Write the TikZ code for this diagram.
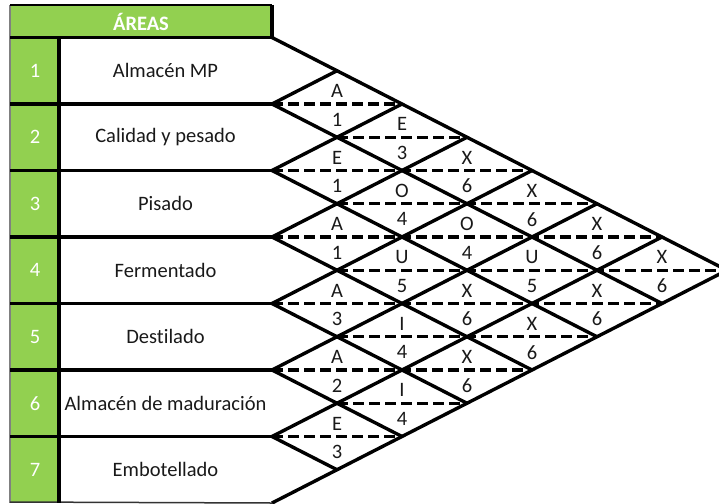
\documentclass[tikz,border=0pt]{standalone}
\usepackage{fontspec}
\setmainfont{Carlito}[Ligatures=NoCommon]
\definecolor{areagreen}{HTML}{92D050}
\begin{document}
\begin{tikzpicture}[x=1pt,y=-1pt,
  thickline/.style={line width=3.4pt, black},
  dashline/.style={line width=3.2pt, black, dash pattern=on 11pt off 5pt},
  basefont/.style={font=\fontsize{20.5}{24}\selectfont},
  lbl/.style={basefont, inner sep=0pt, text=black!90},
  rowtxt/.style={basefont, inner sep=0pt, text=black!90},
  numtxt/.style={basefont, inner sep=0pt, text=white},
  hdr/.style={font=\fontsize{20.5}{24}\selectfont\bfseries, inner sep=0pt, text=white}]
\useasboundingbox (0,0) rectangle (719,503);
\clip (0,0) rectangle (719,503);
% fills
\fill[areagreen] (10,5) rectangle (272,37.5);
\fill[areagreen] (10,37.5) rectangle (59,503);
% lattice points
\foreach \i in {0,...,7} {
  \foreach \j in {0,...,14} {
    \coordinate (p-\i-\j) at ({272+65*\i},{37.5+33.25*\j});
  }
}
% outer frame of the table
\draw[gray, line width=1.2pt] (10,5) -- (10,503);
\draw[black, line width=1.2pt] (10,5) -- (272,5);
\draw[black!80, line width=1.5pt] (10,502) -- (p-0-14);
\draw[thickline] (272,5) -- (p-0-0);
\draw[thickline] (59,37.5) -- (59,503);
\foreach \k in {0,...,6} {
  \pgfmathtruncatemacro\kk{2*\k}
  \draw[thickline] (10,{37.5+66.5*\k}) -- (p-0-\kk);
}
% dashed middles
\foreach \j in {1,...,13} {
  \pgfmathtruncatemacro\dl{mod(\j,2)}
  \pgfmathtruncatemacro\dr{\j<=7 ? \j : 14-\j}
  \ifnum\dr>\dl
    \draw[dashline] (p-\dl-\j) -- (p-\dr-\j);
  \fi
}
% diagonals
\draw[thickline] (p-0-0) -- (p-7-7) -- (p-0-14);
\foreach \k in {1,...,6} {
  \pgfmathtruncatemacro\kk{2*\k}
  \pgfmathtruncatemacro\ia{7-\k}
  \pgfmathtruncatemacro\ja{7+\k}
  \draw[thickline] (p-\k-\k) -- (p-0-\kk) -- (p-\ia-\ja);
}
% header
\node[hdr] (hdr) at (141,21.5) {ÁREAS};
% rows
\foreach \k/\areaname in {1/Almacén MP, 2/Calidad y pesado, 3/Pisado, 4/Fermentado, 5/Destilado, 6/Almacén de maduración, 7/Embotellado} {
  \node[numtxt] (num\k) at (35,{37.5+66.5*\k-33.25}) {\k};
  \node[rowtxt] (area\k) at (165.5,{37.5+66.5*\k-33.25}) {\areaname};
}
% relationship labels
\foreach \ra/\rb/\toplbl/\botlbl in {1/2/A/1, 2/3/E/1, 3/4/A/1, 4/5/A/3, 5/6/A/2, 6/7/E/3,
  1/3/E/3, 2/4/O/4, 3/5/U/5, 4/6/I/4, 5/7/I/4,
  1/4/X/6, 2/5/O/4, 3/6/X/6, 4/7/X/6,
  1/5/X/6, 2/6/U/5, 3/7/X/6,
  1/6/X/6, 2/7/X/6,
  1/7/X/6} {
  \pgfmathsetmacro\cx{272+65*(\rb-\ra)}
  \pgfmathsetmacro\cy{37.5+33.25*(\ra+\rb-1)}
  \node[lbl] (t\ra\rb) at (\cx,{\cy-13}) {\toplbl};
  \node[lbl] (b\ra\rb) at (\cx,{\cy+15.5}) {\botlbl};
}
\end{tikzpicture}
\end{document}
